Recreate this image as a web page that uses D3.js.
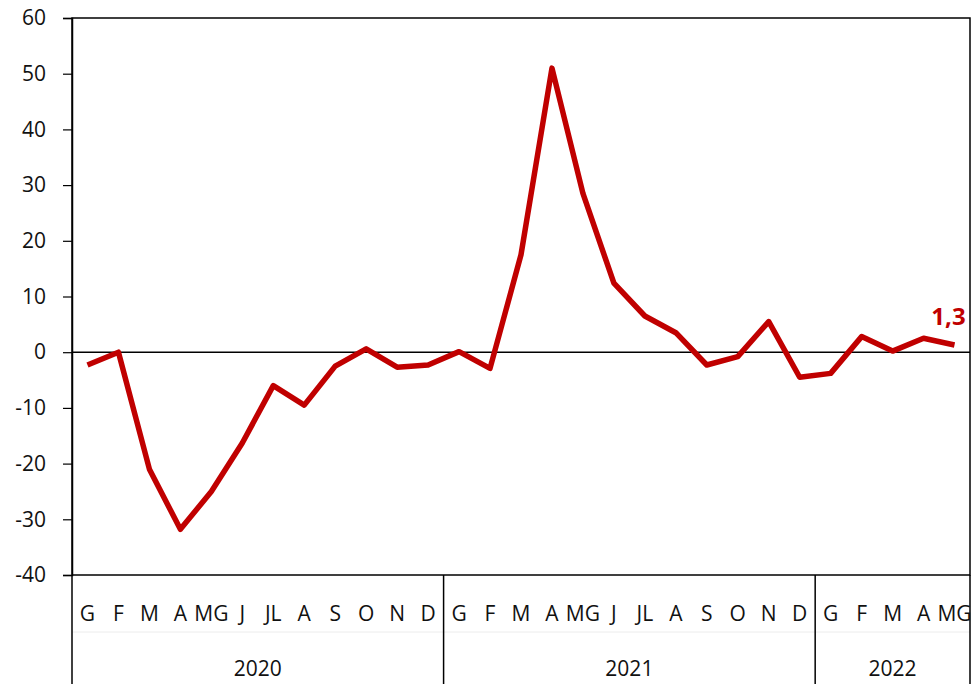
<!DOCTYPE html>
<html>
<head>
<meta charset="utf-8">
<script src="https://cdn.jsdelivr.net/npm/d3@7/dist/d3.min.js"></script>
<style>
  html, body { margin: 0; padding: 0; background: #fff; }
  svg { display: block; font-family: "Open Sans", sans-serif; }
</style>
</head>
<body>
<svg id="chart" width="976" height="684"></svg>
<script>
// Monthly percentage change, Jan 2020 – May 2022
const years = ["2020", "2021", "2022"];
const monthsPerYear = [12, 12, 5];
const monthLabels = ["G", "F", "M", "A", "MG", "J", "JL", "A", "S", "O", "N", "D"];
const values = [
  -2.3, 0.0, -21.0, -31.8, -25.0, -16.3, -6.0, -9.5, -2.5, 0.6, -2.7, -2.3,
  0.1, -2.9, 17.5, 51.0, 28.5, 12.4, 6.5, 3.5, -2.3, -0.8, 5.5, -4.5,
  -3.8, 2.8, 0.2, 2.5, 1.3
];
const yTicks = [-40, -30, -20, -10, 0, 10, 20, 30, 40, 50, 60];
const lastLabel = "1,3";

const svg = d3.select("#chart");
const W = 976, H = 684;
const m = { left: 72, top: 18, right: 6, bottom: 109 };
const plotW = W - m.left - m.right;
const plotH = H - m.top - m.bottom;
const red = "#C00000";

// category keys, one per month
const cats = [];
years.forEach((y, yi) => {
  for (let k = 0; k < monthsPerYear[yi]; k++) cats.push(y + "-" + k);
});

const x = d3.scaleBand().domain(cats).range([m.left, m.left + plotW]).padding(0);
const y = d3.scaleLinear().domain([-40, 60]).range([m.top + plotH, m.top]);
const cx = c => x(c) + x.bandwidth() / 2;

// plot frame
svg.append("rect")
  .attr("x", m.left).attr("y", m.top)
  .attr("width", plotW).attr("height", plotH)
  .attr("fill", "none").attr("stroke", "#000").attr("stroke-width", 1.5);

// y axis (plain hyphen for negatives)
const yAxis = svg.append("g")
  .attr("transform", `translate(${m.left},0)`)
  .call(d3.axisLeft(y).tickValues(yTicks).tickSize(9).tickPadding(17).tickFormat(d => String(d)));
yAxis.select(".domain").attr("stroke", "#000").attr("stroke-width", 1.5);
yAxis.selectAll(".tick line").attr("stroke", "#000").attr("stroke-width", 1.2);
yAxis.selectAll(".tick text")
  .attr("font-size", 21).attr("fill", "#111")
  .style("font-family", "'Open Sans', sans-serif");

// zero line
svg.append("line")
  .attr("x1", m.left).attr("x2", m.left + plotW)
  .attr("y1", y(0)).attr("y2", y(0))
  .attr("stroke", "#000").attr("stroke-width", 1.5);

// category axis: faint row divider, year separators
const axTop = m.top + plotH;
svg.append("line")
  .attr("x1", m.left).attr("x2", m.left + plotW)
  .attr("y1", 632).attr("y2", 632)
  .attr("stroke", "#ececec").attr("stroke-width", 1);

let start = 0;
const bounds = [0];
monthsPerYear.forEach(n => { start += n; bounds.push(start); });
bounds.forEach(b => {
  const bx = b < cats.length ? x(cats[b]) : m.left + plotW;
  svg.append("line")
    .attr("x1", bx).attr("x2", bx)
    .attr("y1", axTop).attr("y2", H)
    .attr("stroke", "#000").attr("stroke-width", 1.5);
});

// month labels
svg.append("g").selectAll("text")
  .data(cats)
  .join("text")
  .attr("x", c => cx(c))
  .attr("y", 621)
  .attr("text-anchor", "middle")
  .attr("font-size", 21)
  .attr("fill", "#111")
  .text(c => monthLabels[+c.split("-")[1]]);

// year labels
svg.append("g").selectAll("text")
  .data(years)
  .join("text")
  .attr("x", (d, i) => {
    const a = x(cats[bounds[i]]);
    const b = bounds[i + 1] < cats.length ? x(cats[bounds[i + 1]]) : m.left + plotW;
    return (a + b) / 2;
  })
  .attr("y", 676)
  .attr("text-anchor", "middle")
  .attr("font-size", 21)
  .attr("fill", "#111")
  .text(d => d);

// data line
const line = d3.line()
  .x((d, i) => cx(cats[i]))
  .y(d => y(d));
svg.append("path")
  .datum(values)
  .attr("d", line)
  .attr("fill", "none")
  .attr("stroke", red)
  .attr("stroke-width", 5.5)
  .attr("stroke-linejoin", "round")
  .attr("stroke-linecap", "butt");

// value label on the last point
const li = values.length - 1;
svg.append("text")
  .attr("x", cx(cats[li]) - 6)
  .attr("y", y(values[li]) - 20)
  .attr("text-anchor", "middle")
  .attr("font-size", 24)
  .attr("font-weight", 700)
  .attr("fill", red)
  .text(lastLabel);
</script>
</body>
</html>
